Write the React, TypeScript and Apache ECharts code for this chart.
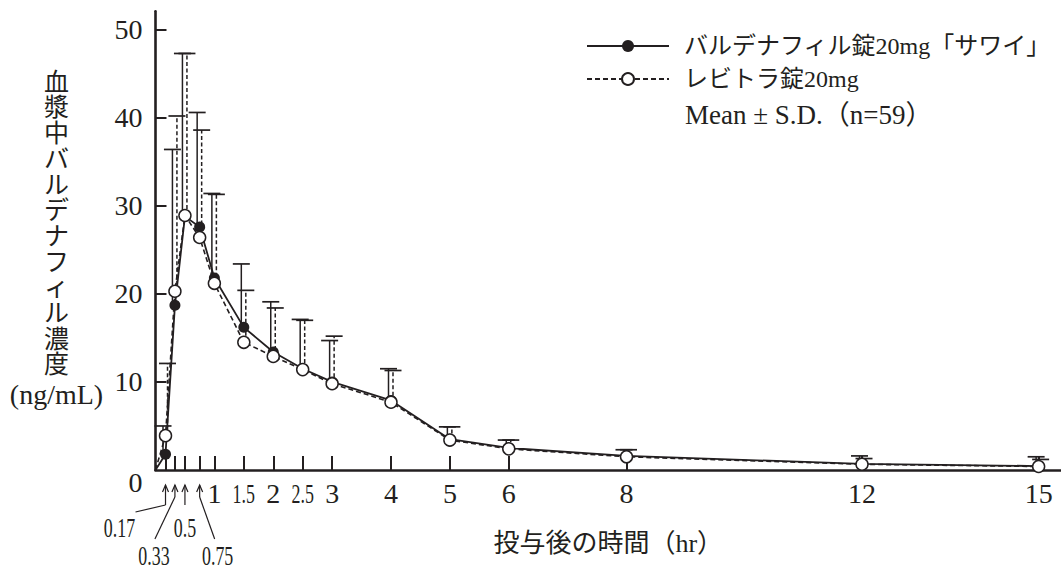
import React, { useEffect, useRef } from 'react';
import * as echarts from 'echarts';

const seriesNames = ['バルデナフィル錠20mg「サワイ」', 'レビトラ錠20mg'];
const legendNote = 'Mean ± S.D.（n=59）';
const yAxisNameChars = ['血', '漿', '中', 'バ', 'ル', 'デ', 'ナ', 'フ', 'ィ', 'ル', '濃', '度'];
const yAxisUnit = '(ng/mL)';
const xAxisName = '投与後の時間（hr）';

const times = [0, 0.17, 0.33, 0.5, 0.75, 1, 1.5, 2, 2.5, 3, 4, 5, 6, 8, 12, 15];
const genericMean = [0, 1.8, 18.7, 28.8, 27.6, 21.8, 16.2, 13.4, 11.5, 10.0, 7.9, 3.5, 2.5, 1.6, 0.7, 0.45];
const genericUpper = [null, 5.0, 36.4, 47.3, 40.6, 31.4, 23.4, 19.1, 17.1, 14.7, 11.5, 4.9, 3.4, 2.3, 1.6, 1.5];
const brandMean = [0, 3.9, 20.3, 28.9, 26.4, 21.2, 14.5, 12.9, 11.4, 9.8, 7.7, 3.4, 2.4, 1.5, 0.65, 0.4];
const brandUpper = [null, 12.1, 40.2, 47.3, 38.6, 31.3, 20.4, 18.4, 17.0, 15.2, 11.3, 4.9, 3.4, 2.3, 1.3, 1.2];

const yTickValues = [10, 20, 30, 40, 50];
const yLabelValues = [0, 10, 20, 30, 40, 50];
const xTickValues = [0.17, 0.33, 0.5, 0.75, 1, 1.5, 2, 2.5, 3, 4, 5, 6, 8, 12, 15];
const xLabelValues = [1, 2, 3, 4, 5, 6, 8, 12, 15];
const condensedLabels = ['0.17', '0.33', '0.5', '0.75', '1.5', '2.5'];

const INK = '#231f20';
const SERIF = "'Liberation Serif', 'Noto Sans CJK JP', serif";

// layout of the condensed labels (relative to the axis point)
const condensedLayout = [
  { arrowEnd: 35, leader: [-30, 42], label: [-46, 57] },
  { arrowEnd: 27, leader: [-20, 69], label: [-21, 85] },
  { arrowEnd: 35, leader: null, label: [0, 57] },
  { arrowEnd: 27, leader: [15, 69], label: [18, 85] },
  { arrowEnd: 0, leader: null, label: [0, 23] },
  { arrowEnd: 0, leader: null, label: [0, 23] },
];

function errRender(offset: number, dash: number[] | null) {
  return (params: any, api: any) => {
    const x = api.value(0);
    const m = api.value(1);
    const u = api.value(2);
    const p0 = api.coord([x, m]);
    const p1 = api.coord([x, u]);
    const cx = p0[0] + offset;
    return {
      type: 'group',
      children: [
        {
          type: 'line',
          shape: { x1: cx, y1: p0[1], x2: cx, y2: p1[1] },
          style: { stroke: INK, lineWidth: 1.5, lineDash: dash || undefined },
        },
        {
          type: 'line',
          shape: { x1: cx - 8.5, y1: p1[1], x2: cx + 8.5, y2: p1[1] },
          style: { stroke: INK, lineWidth: 1.7 },
        },
      ],
    };
  };
}

export default function App() {
  const ref = useRef<HTMLDivElement>(null);
  useEffect(() => {
    if (!ref.current) return;
    const chart = echarts.init(ref.current, null, { renderer: 'svg' });

    const genericErr = times
      .map((t, i) => [t, genericMean[i], genericUpper[i]])
      .filter((d) => d[2] !== null);
    const brandErr = times
      .map((t, i) => [t, brandMean[i], brandUpper[i]])
      .filter((d) => d[2] !== null);

    const option: any = {
      animation: false,
      backgroundColor: '#ffffff',
      textStyle: { fontFamily: SERIF, color: INK },
      grid: { left: 155.5, right: 0, top: 11.2, bottom: 100, containLabel: false },
      title: {
        text: legendNote,
        left: 680,
        top: 96,
        textStyle: { fontSize: 27, fontWeight: 'normal', fontFamily: SERIF, color: INK },
      },
      legend: {
        orient: 'vertical',
        left: 586,
        top: 34,
        itemWidth: 82,
        itemHeight: 15,
        itemGap: 9,
        padding: 0,
        data: seriesNames,
        textStyle: { fontSize: 24, fontFamily: SERIF, color: INK, padding: [0, 0, 0, 10] },
      },
      xAxis: {
        type: 'value',
        min: 0,
        max: 15.38,
        name: xAxisName,
        nameLocation: 'middle',
        nameGap: 73,
        nameTextStyle: { fontSize: 26, fontFamily: SERIF, color: INK, verticalAlign: 'middle' },
        axisLine: { show: true, onZero: false, lineStyle: { color: INK, width: 2.6 } },
        axisTick: {
          show: true,
          inside: true,
          length: 14,
          customValues: xTickValues,
          lineStyle: { color: INK, width: 2 },
        },
        axisLabel: {
          show: true,
          customValues: xLabelValues,
          margin: 9,
          fontSize: 28,
          fontFamily: SERIF,
          color: INK,
        },
        splitLine: { show: false },
      },
      yAxis: {
        type: 'value',
        min: 0,
        max: 52.1,
        name: yAxisNameChars.join('\n') + '\n{u|' + yAxisUnit + '}',
        nameLocation: 'middle',
        nameRotate: 0,
        nameGap: 99,
        nameTextStyle: {
          fontSize: 25,
          lineHeight: 25.7,
          fontFamily: SERIF,
          color: INK,
          align: 'center',
          verticalAlign: 'middle',
          rich: {
            u: { fontSize: 28, lineHeight: 34, fontFamily: SERIF, color: INK, align: 'center' },
          },
        },
        axisLine: { show: true, onZero: false, lineStyle: { color: INK, width: 2.6 } },
        axisTick: {
          show: true,
          inside: true,
          length: 11,
          customValues: yTickValues,
          lineStyle: { color: INK, width: 2 },
        },
        axisLabel: {
          show: true,
          customValues: yLabelValues,
          margin: 13,
          fontSize: 28,
          fontFamily: SERIF,
          color: INK,
          formatter: (v: number) => (v === 0 ? '{z|0}' : String(v)),
          rich: { z: { fontSize: 28, fontFamily: SERIF, color: INK, padding: [24, 0, 0, 0] } },
        },
        splitLine: { show: false },
      },
      series: [
        {
          name: 'generic-sd',
          type: 'custom',
          renderItem: errRender(-2.5, null),
          data: genericErr,
          encode: { x: 0, y: [1, 2] },
          z: 1,
          silent: true,
        },
        {
          name: 'brand-sd',
          type: 'custom',
          renderItem: errRender(2, [4, 2.5]),
          data: brandErr,
          encode: { x: 0, y: [1, 2] },
          z: 1,
          silent: true,
        },
        {
          name: seriesNames[0],
          type: 'line',
          data: times.map((t, i) => ({ value: [t, genericMean[i]], symbol: t === 0 ? 'none' : 'circle' })),
          symbol: 'circle',
          symbolSize: 11,
          lineStyle: { color: INK, width: 1.8 },
          itemStyle: { color: INK },
          z: 3,
        },
        {
          name: seriesNames[1],
          type: 'line',
          data: times.map((t, i) => ({ value: [t, brandMean[i]], symbol: t === 0 ? 'none' : 'circle' })),
          symbol: 'circle',
          symbolSize: 12,
          lineStyle: { color: INK, width: 1.6, type: [5, 3] },
          itemStyle: { color: '#ffffff', borderColor: INK, borderWidth: 1.5 },
          z: 4,
        },
        {
          name: 'condensed-labels',
          type: 'custom',
          silent: true,
          clip: false,
          data: condensedLabels.map((s) => [Number(s), 0]),
          renderItem: (params: any, api: any) => {
            const idx = params.dataIndex;
            const lay = condensedLayout[idx];
            const p = api.coord([api.value(0), 0]);
            const px = p[0];
            const ay = p[1];
            const children: any[] = [];
            if (lay.arrowEnd) {
              const tip = ay + 15;
              children.push({
                type: 'line',
                shape: { x1: px, y1: tip, x2: px, y2: ay + lay.arrowEnd },
                style: { stroke: INK, lineWidth: 1.2 },
              });
              children.push({
                type: 'polyline',
                shape: { points: [[px - 3, tip + 7], [px, tip], [px + 3, tip + 7]] },
                style: { stroke: INK, lineWidth: 1.2, fill: null },
              });
              if (lay.leader) {
                children.push({
                  type: 'line',
                  shape: {
                    x1: px,
                    y1: ay + lay.arrowEnd,
                    x2: px + lay.leader[0],
                    y2: ay + lay.leader[1],
                  },
                  style: { stroke: INK, lineWidth: 1.2 },
                });
              }
            }
            children.push({
              type: 'text',
              x: px + lay.label[0],
              y: ay + lay.label[1],
              scaleX: 0.64,
              style: {
                text: condensedLabels[idx],
                fontSize: 28,
                fontFamily: SERIF,
                fill: INK,
                align: 'center',
                verticalAlign: 'middle',
              },
            });
            return { type: 'group', children };
          },
          z: 5,
        },
      ],
    };
    chart.setOption(option);
    return () => chart.dispose();
  }, []);
  return (
    <div
      ref={ref}
      style={{ position: 'absolute', left: 0, top: 0, width: 1061, height: 570, background: '#fff' }}
    />
  );
}
